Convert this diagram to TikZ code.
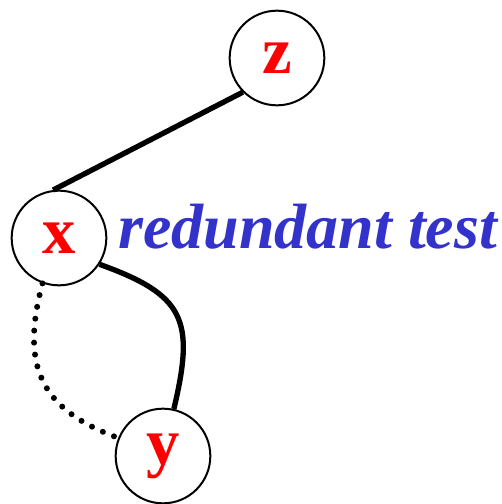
\documentclass[tikz,border=0pt]{standalone}
\usepackage{fontspec}
\setmainfont{Liberation Serif}
\definecolor{testblue}{RGB}{51,51,204}
\begin{document}
\begin{tikzpicture}[x=0.75pt, y=-0.75pt,
          vert/.style={draw, circle, line width=1.5pt, minimum size=71pt, inner sep=0pt, text=red, font=\fontsize{50}{50}\selectfont\bfseries},
          note/.style={text=testblue, font=\fontsize{48}{48}\selectfont\bfseries\itshape, inner sep=0pt},
          tree/.style={line width=4pt},
          skip/.style={line width=4.5pt, line cap=round, dash pattern=on 0pt off 9pt}]
        \useasboundingbox (0,0) rectangle (501,504);
        \node[vert] (z) at (277,58) {z};
        \node[vert] (x) at (59,238) {x};
        \node[vert] (y) at (163,456) {y};
        \node[note, anchor=base west] (t) at (118,248) {redundant test};
        \draw[tree] (z.225) -- (x.97);
        \draw[tree] (x.-33) .. controls (185,295) and (195,320) .. (y.77);
        \draw[skip] (x.250) to[out=255, in=160, looseness=1.25] (y.158);
      \end{tikzpicture}
\end{document}
